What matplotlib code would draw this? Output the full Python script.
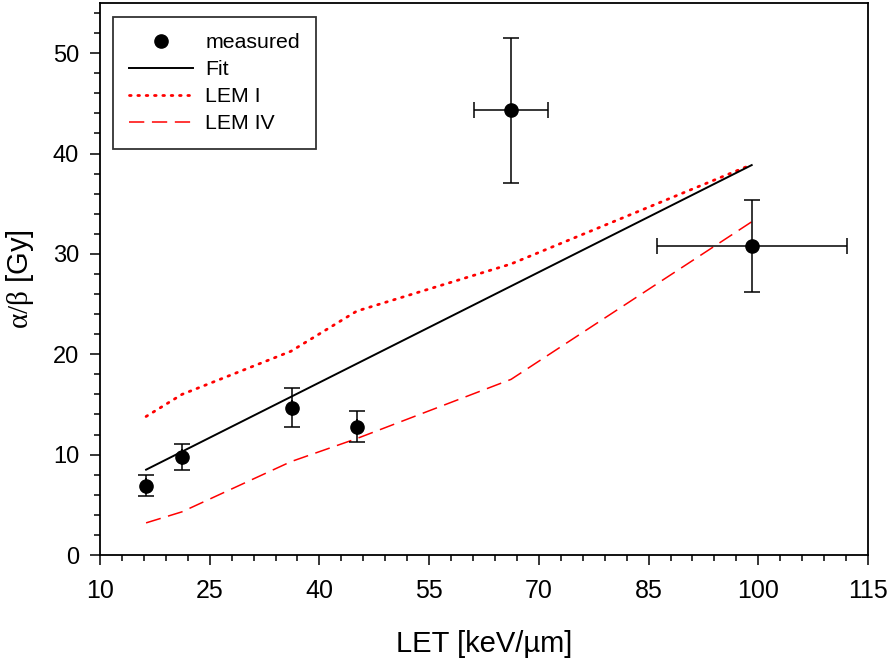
import matplotlib
matplotlib.use('Agg')
import matplotlib.pyplot as plt
from matplotlib.lines import Line2D
import numpy as np

plt.rcParams['font.family'] = ['Liberation Sans', 'DejaVu Sans']
plt.rcParams['mathtext.fontset'] = 'custom'
plt.rcParams['mathtext.rm'] = 'Liberation Serif'
plt.rcParams['mathtext.it'] = 'Liberation Serif'

# measured alpha/beta vs LET
let = [16.3, 21.2, 36.2, 45.2, 66.2, 99.1]
ab = [6.9, 9.75, 14.6, 12.8, 44.3, 30.8]
ab_lo = [1.0, 1.25, 1.85, 1.5, 7.25, 4.6]
ab_hi = [1.1, 1.35, 2.0, 1.5, 7.2, 4.6]
let_err = [0, 0, 0, 0, 5.0, 13.0]

# linear fit
fit_x = [16.3, 99.1]
fit_y = [8.5, 38.85]

# model curves
lem_x = [16.3, 21.2, 36.1, 45.1, 66.2, 99.1]
lem1_y = [13.8, 16.0, 20.3, 24.3, 29.0, 38.9]
lem4_y = [3.2, 4.3, 9.3, 11.6, 17.5, 33.2]

xticks = [10, 25, 40, 55, 70, 85, 100, 115]
yticks = [0, 10, 20, 30, 40, 50]

fig = plt.figure(figsize=(8.94, 6.63), dpi=100)
ax = fig.add_axes([100/894, 108/663, 768/894, 552/663])

l1, = ax.plot(lem_x, lem1_y, color='red', lw=2.0, ls=(0, (0.6, 2.4)),
              dash_capstyle='round', zorder=2)
l4, = ax.plot(lem_x, lem4_y, color='red', lw=1.1, ls=(0, (10, 5)), zorder=2)
lf, = ax.plot(fit_x, fit_y, color='black', lw=1.4, zorder=3)
ax.errorbar(let, ab, yerr=[ab_lo, ab_hi], xerr=let_err, fmt='o',
            color='black', ms=9.5, elinewidth=1.1, capsize=6, capthick=1.1,
            zorder=4)

ax.set_xlim(10, 115)
ax.set_ylim(0, 55)
ax.set_xticks(xticks)
ax.set_xticks(np.arange(10, 116, 3), minor=True)
ax.set_yticks(yticks)
ax.set_yticks(np.arange(0, 56, 2), minor=True)
ax.tick_params(which='major', direction='out', length=7, width=1.1)
ax.tick_params(which='minor', direction='out', length=4, width=1.1)
ax.tick_params(axis='x', which='major', pad=10, labelsize=18)
ax.tick_params(axis='y', which='major', pad=8, labelsize=17)
for s in ax.spines.values():
    s.set_linewidth(1.3)

ax.set_xlabel('LET [keV/µm]', fontsize=21, labelpad=20)
ax.set_ylabel(r'$\alpha/\beta$ [Gy]', fontsize=21, labelpad=12)

dot = Line2D([], [], ls='none', marker='o', color='black', ms=9.5)
leg = ax.legend([dot, lf, l1, l4], ['measured', 'Fit', 'LEM I', 'LEM IV'],
                loc='upper left', bbox_to_anchor=(13/768, 1-14/552),
                borderaxespad=0, fontsize=15.3, frameon=True, fancybox=False,
                edgecolor='black', handlelength=3, handletextpad=0.6,
                labelspacing=0.38, numpoints=1, borderpad=0.75)
leg.get_frame().set_linewidth(1.3)

fig.savefig('out.png', dpi=100)
